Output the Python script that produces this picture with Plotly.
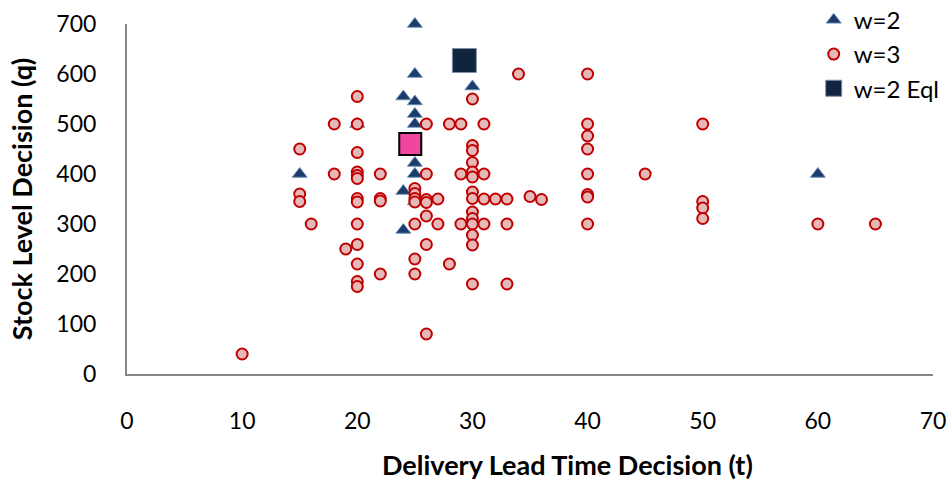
import plotly.graph_objects as go

# Decisions for the w=2 treatment: delivery lead time (t) and stock level (q)
w2_t = [25, 25, 30, 24, 25, 25, 25, 20, 25, 25, 15, 24, 24, 60, 25]
w2_q = [700, 600, 575, 555, 545, 520, 500, 500, 422, 400, 400, 366, 288, 400, 345]

# Decisions for the w=3 treatment
w3_t = [10,
        15, 15, 15,
        16,
        18, 18,
        19,
        20, 20, 20, 20, 20, 20, 20, 20, 20, 20, 20, 20, 20,
        22, 22, 22, 22,
        25, 25, 25, 25, 25, 25, 25,
        26, 26, 26, 26, 26, 26, 26,
        27, 27,
        28, 28,
        29, 29, 29,
        30, 30, 30, 30, 30, 30, 30, 30, 30, 30, 30, 30, 30, 30,
        31, 31, 31, 31,
        32,
        33, 33, 33,
        34,
        35,
        36,
        40, 40, 40, 40, 40, 40, 40, 40,
        45,
        50, 50, 50, 50,
        60,
        65]
w3_q = [40,
        450, 360, 345,
        300,
        500, 400,
        250,
        555, 500, 443, 404, 397, 391, 351, 344, 300, 259, 220, 185, 175,
        400, 351, 346, 200,
        371, 361, 351, 344, 300, 230, 200,
        500, 400, 349, 343, 316, 259, 80,
        350, 300,
        500, 220,
        500, 400, 300,
        550, 457, 447, 423, 404, 394, 364, 351, 324, 311, 300, 278, 258, 180,
        500, 400, 350, 300,
        350,
        350, 300, 180,
        600,
        355,
        349,
        600, 500, 476, 450, 400, 359, 354, 300,
        400,
        500, 345, 332, 311,
        300,
        300]

# Equilibrium points
eq_w2_t = [29.3]
eq_w2_q = [627]
eq_w3_t = [24.6]
eq_w3_q = [460]

x_ticks = [0, 10, 20, 30, 40, 50, 60, 70]
y_ticks = [0, 100, 200, 300, 400, 500, 600, 700]

FONT = "Lato"

fig = go.Figure()

fig.add_trace(go.Scatter(
    x=w2_t, y=w2_q, mode="markers", name="w=2", cliponaxis=False,
    marker=dict(symbol="triangle-up", size=13, color="#1B3D6B",
                line=dict(color="rgba(110,140,180,0.9)", width=1)),
))
fig.add_trace(go.Scatter(
    x=w3_t, y=w3_q, mode="markers", name="w=3", cliponaxis=False,
    marker=dict(symbol="circle", size=11, color="#E6B9B8",
                line=dict(color="#C00000", width=2)),
))
fig.add_trace(go.Scatter(
    x=eq_w2_t, y=eq_w2_q, mode="markers", name="w=2 Eql", cliponaxis=False,
    marker=dict(symbol="square", size=24, color="#10243F",
                line=dict(color="#7F8FA6", width=1)),
))
fig.add_trace(go.Scatter(
    x=eq_w3_t, y=eq_w3_q, mode="markers", name="w=3 Eql", showlegend=False,
    cliponaxis=False,
    marker=dict(symbol="square", size=22, color="#F046A0",
                line=dict(color="#000000", width=2)),
))

axis_common = dict(
    showgrid=False, zeroline=False, showline=True,
    linecolor="#868686", linewidth=2,
    ticks="outside", tickcolor="rgba(0,0,0,0)",
    tickfont=dict(family=FONT, size=23, color="#000000"),
)

fig.update_xaxes(range=[0, 70], tickvals=x_ticks, ticklen=25, **axis_common)
fig.update_yaxes(
    range=[0, 700], tickvals=y_ticks, ticklen=24,
    title=dict(text="<b>Stock Level Decision (q)</b>", standoff=16,
               font=dict(family=FONT, size=27, color="#000000")),
    **axis_common,
)

# x-axis title, set slightly right of the plot centre
fig.add_annotation(
    text="<b>Delivery Lead Time Decision (t)</b>",
    xref="paper", yref="paper", x=0.546, y=-0.258,
    xanchor="center", yanchor="middle", showarrow=False,
    font=dict(family=FONT, size=27, color="#000000"),
)

fig.update_layout(
    width=952, height=483,
    margin=dict(l=127, r=19, t=24, b=109, autoexpand=False),
    paper_bgcolor="white", plot_bgcolor="white",
    showlegend=True,
    legend=dict(x=0.852, y=1.075, xanchor="left", yanchor="top",
                font=dict(family=FONT, size=24, color="#000000"),
                bgcolor="rgba(0,0,0,0)", itemwidth=30, tracegroupgap=4),
)

fig.write_html("out.html")
